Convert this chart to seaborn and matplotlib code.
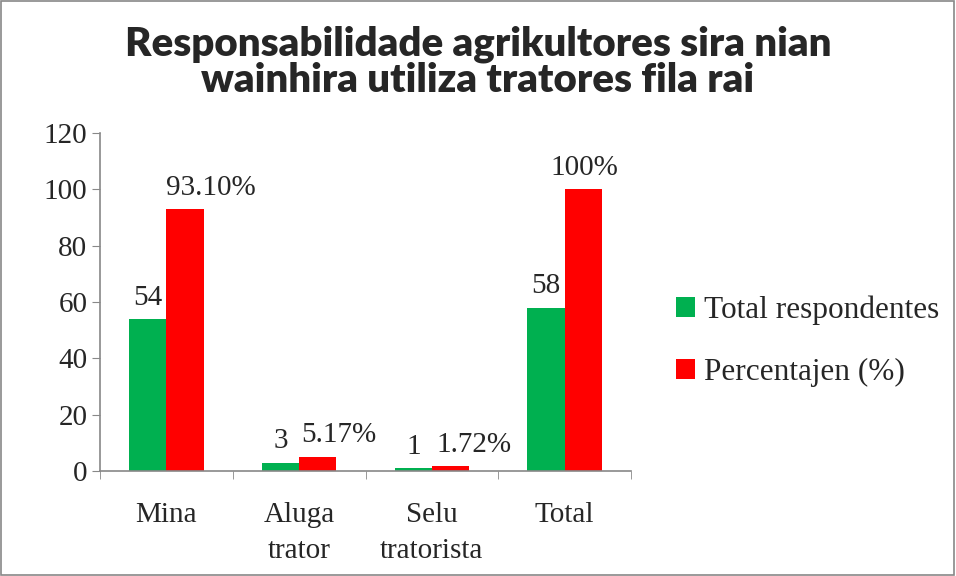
import pandas as pd
import seaborn as sns
import matplotlib.pyplot as plt
from matplotlib.patches import Rectangle

categories = ['Mina', 'Aluga\ntrator', 'Selu\ntratorista', 'Total']
respondentes = [54, 3, 1, 58]
percentajen = [93.10, 5.17, 1.72, 100]
resp_labels = ['54', '3', '1', '58']
perc_labels = ['93.10%', '5.17%', '1.72%', '100%']
series = ['Total respondentes', 'Percentajen (%)']

df = pd.DataFrame({
    'categoria': categories * 2,
    'valor': respondentes + percentajen,
    'serie': [series[0]] * 4 + [series[1]] * 4,
})

sns.set_style('white')
plt.rcParams['font.family'] = ['Liberation Serif', 'DejaVu Serif']

fig = plt.figure(figsize=(9.56, 5.76), dpi=100)
ax = fig.add_axes([0.1046, 0.182, 0.5555, 0.587])

sns.barplot(data=df, x='categoria', y='valor', hue='serie', order=categories,
            hue_order=series, palette=['#00B050', '#FF0000'], width=0.56,
            saturation=1, linewidth=0, ax=ax, legend=True)

# data labels (red ones nudged right like the original)
nudges = [[0, 0, 0, 0], [26, 21, 24, 1]]
for i, (cont, labs) in enumerate(zip(ax.containers, [resp_labels, perc_labels])):
    for j, (bar, lab) in enumerate(zip(cont, labs)):
        ax.annotate(lab, (bar.get_x() + bar.get_width() / 2, bar.get_height()),
                    xytext=(nudges[i][j] * 0.72, 6), textcoords='offset points',
                    ha='center', va='bottom', fontsize=21)

ax.set_ylim(0, 120)
ax.set_xlim(-0.5, 3.5)
ax.set_yticks(range(0, 121, 20))
ax.set_xlabel('')
ax.set_ylabel('')
ax.tick_params(axis='y', labelsize=21, length=6, color='#888888', direction='out', left=True, pad=3)
ax.tick_params(axis='x', labelsize=21, length=0, pad=22)
for t in ax.get_xticklabels():
    t.set_linespacing(1.5)
ax.set_xticks([-0.5, 0.5, 1.5, 2.5, 3.5], minor=True)
ax.tick_params(axis='x', which='minor', length=6, color='#888888', direction='out', bottom=True)
for s in ['top', 'right']:
    ax.spines[s].set_visible(False)
for s in ['left', 'bottom']:
    ax.spines[s].set_color('#888888')
    ax.spines[s].set_linewidth(1.2)

h, l = ax.get_legend_handles_labels()
ax.legend(h, l, loc='center left', bbox_to_anchor=(0.707, 0.408), bbox_transform=fig.transFigure,
          frameon=False, fontsize=22.5, handlelength=0.6, handleheight=0.6,
          handletextpad=0.3, labelspacing=1.05, borderpad=0, borderaxespad=0)

fig.suptitle('Responsabilidade agrikultores sira nian\nwainhira utiliza tratores fila rai',
             y=0.955, fontsize=29, fontweight='heavy', family=['Lato', 'DejaVu Sans'],
             linespacing=0.95)

fig.add_artist(Rectangle((0.001, 0.001), 0.997, 0.997, transform=fig.transFigure,
                         fill=False, edgecolor='#888888', linewidth=1.2))

fig.savefig('out.png', dpi=100)
